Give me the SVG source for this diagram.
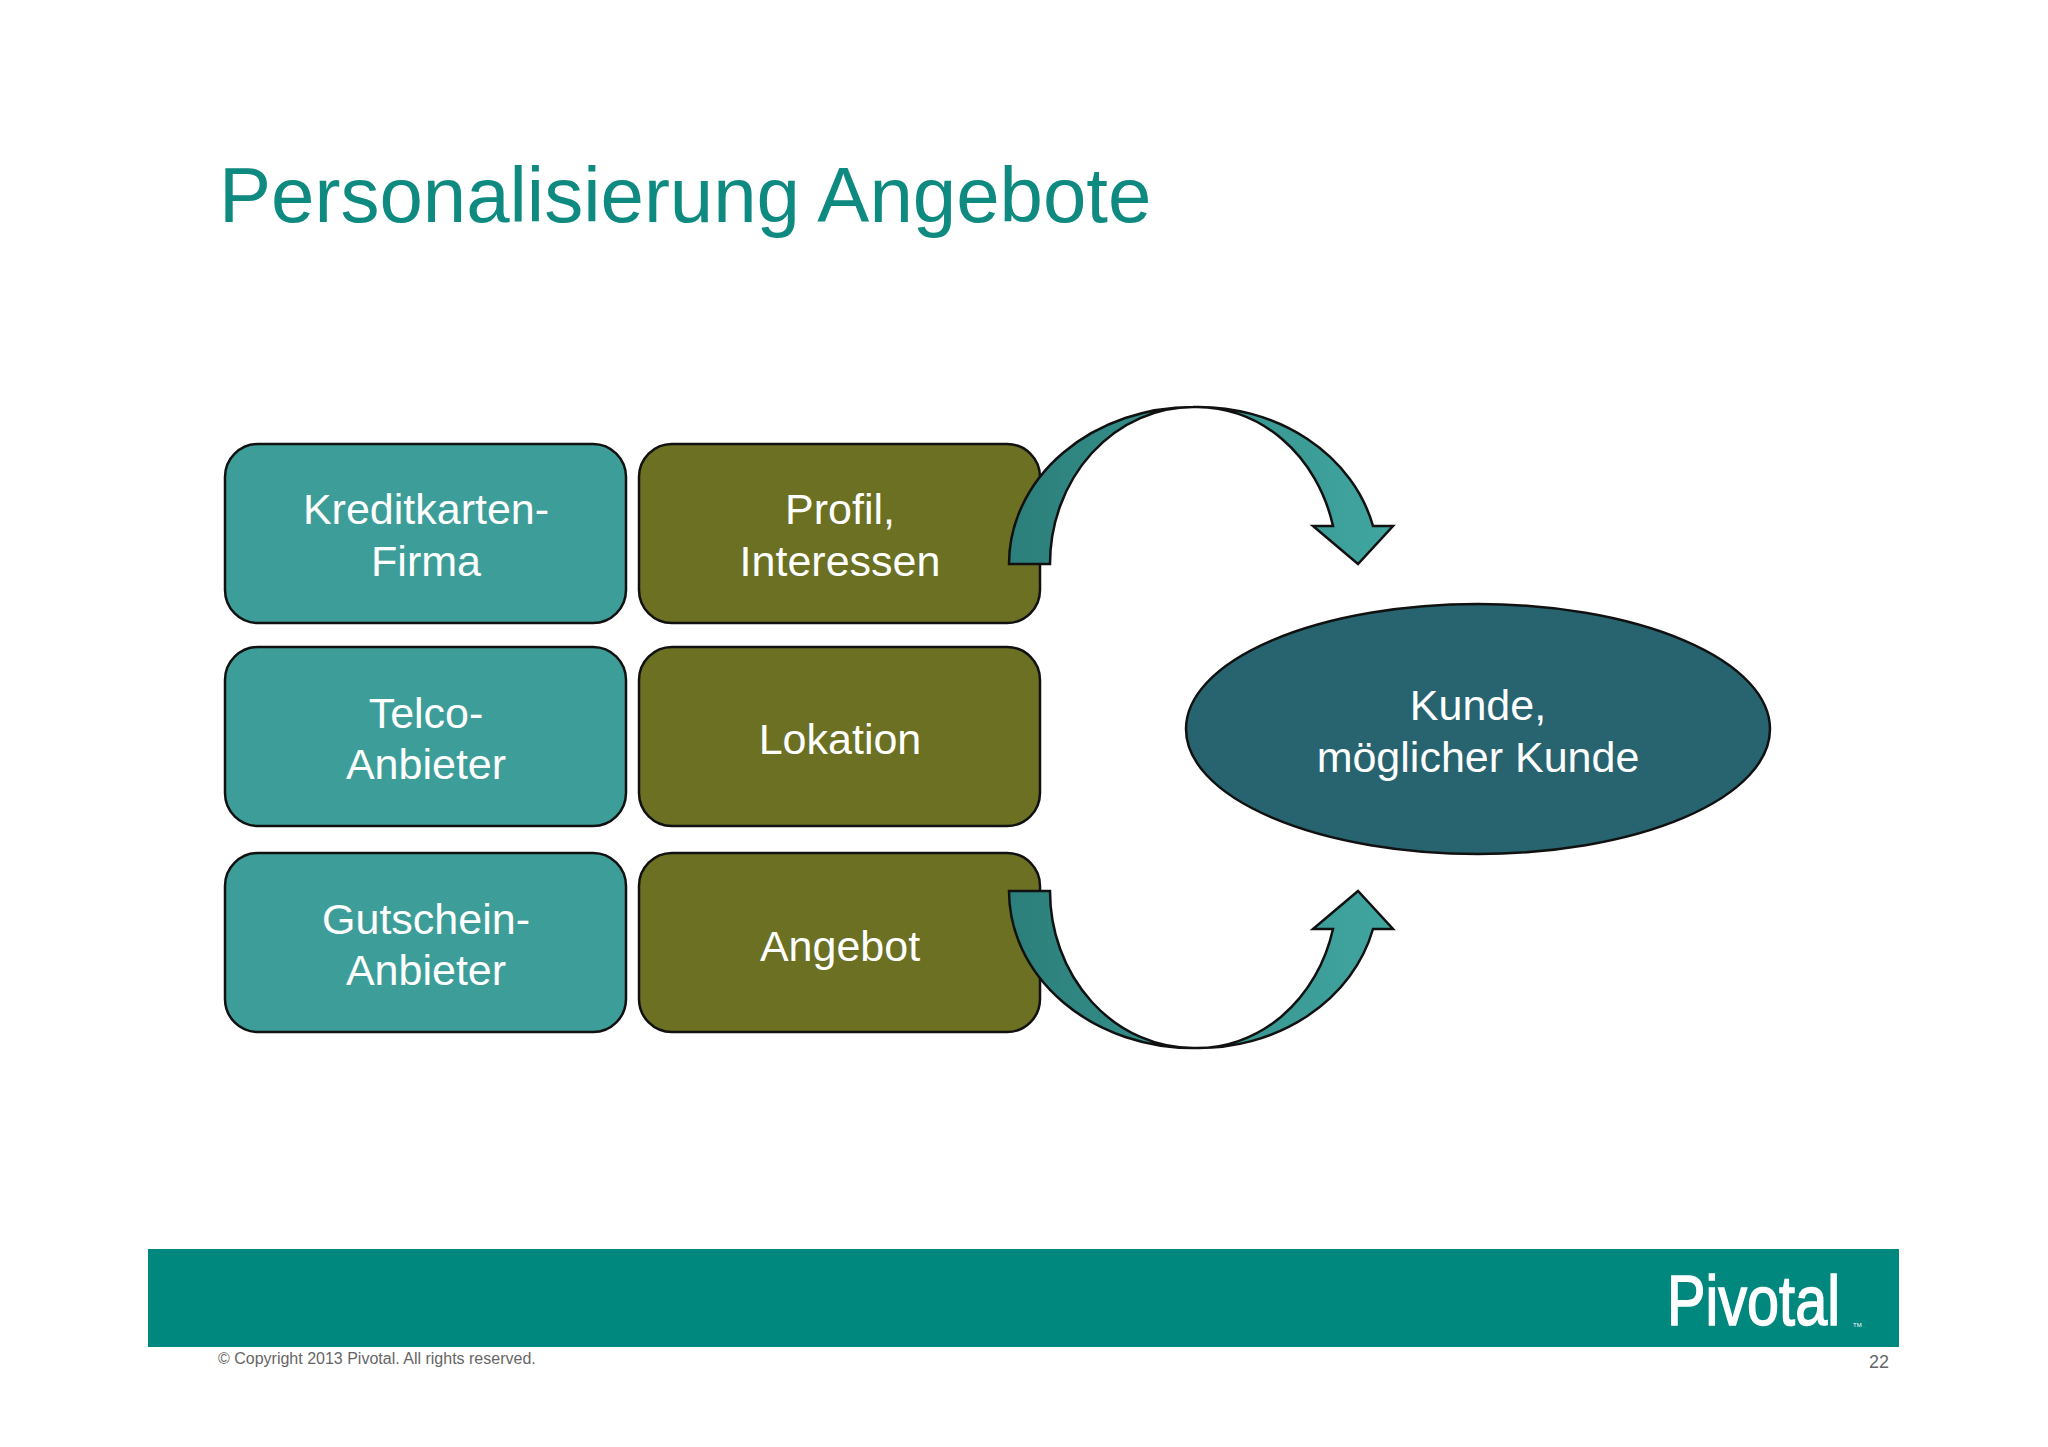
<svg xmlns="http://www.w3.org/2000/svg" width="2048" height="1447" viewBox="0 0 2048 1447">
<style>
.t{font-family:"Liberation Sans",Arial,sans-serif;fill:#fff;font-size:43px;text-anchor:middle}
.teal{fill:#3d9e99;stroke:#111;stroke-width:2.5}
.olive{fill:#6b7023;stroke:#111;stroke-width:2.5}
</style>
<defs>
<linearGradient id="g" x1="0" x2="1" y1="0" y2="0">
<stop offset="0" stop-color="#2c7f7b"/><stop offset="1" stop-color="#41a6a0"/>
</linearGradient>
</defs>
<rect width="2048" height="1447" fill="#fff"/>
<text x="219" y="222" font-family="Liberation Sans,Arial,sans-serif" font-size="78" fill="#0e8a80">Personalisierung Angebote</text>
<g id="kreditkarten"><rect class="teal" x="225" y="444" width="401" height="179" rx="33"/><text class="t" x="426" y="524">Kreditkarten-</text><text class="t" x="426" y="576">Firma</text></g>
<g id="telco"><rect class="teal" x="225" y="647" width="401" height="179" rx="33"/><text class="t" x="426" y="728">Telco-</text><text class="t" x="426" y="779">Anbieter</text></g>
<g id="gutschein"><rect class="teal" x="225" y="853" width="401" height="179" rx="33"/><text class="t" x="426" y="934">Gutschein-</text><text class="t" x="426" y="985">Anbieter</text></g>
<g id="profil"><rect class="olive" x="639" y="444" width="401" height="179" rx="33"/><text class="t" x="840" y="524">Profil,</text><text class="t" x="840" y="576">Interessen</text></g>
<g id="lokation"><rect class="olive" x="639" y="647" width="401" height="179" rx="33"/><text class="t" x="840" y="754">Lokation</text></g>
<g id="angebot"><rect class="olive" x="639" y="853" width="401" height="179" rx="33"/><text class="t" x="840" y="961">Angebot</text></g>
<g id="kunde"><ellipse cx="1478" cy="729" rx="292" ry="125" fill="#276470" stroke="#111" stroke-width="2.5"/><text class="t" x="1478" y="720">Kunde,</text><text class="t" x="1478" y="772">möglicher Kunde</text></g>
<g id="connectors">
<path id="arr" d="M1009,564 A184,157 0 0 1 1193,407 A180,157 0 0 1 1373,526 L1393,526 L1358,564 L1313,526 L1333,526 A140,157 0 0 0 1193,407 A143,157 0 0 0 1050,564 Z" fill="url(#g)" stroke="#111" stroke-width="2.5" stroke-linejoin="miter"/>
<use href="#arr" transform="matrix(1 0 0 -1 0 1455)"/>
</g>
<rect x="148" y="1249" width="1751" height="98" fill="#00887f"/>
<text x="1667" y="1325" font-family="Liberation Sans,Arial,sans-serif" font-size="70" fill="#fff" stroke="#fff" stroke-width="1.5" textLength="173" lengthAdjust="spacingAndGlyphs">Pivotal</text>
<text x="1853" y="1327" font-family="Liberation Sans,Arial,sans-serif" font-size="6" fill="#fff">TM</text>
<text x="218" y="1364" font-family="Liberation Sans,Arial,sans-serif" font-size="16" fill="#666">© Copyright 2013 Pivotal. All rights reserved.</text>
<text x="1889" y="1368" font-family="Liberation Sans,Arial,sans-serif" font-size="18" fill="#666" text-anchor="end">22</text>
</svg>
